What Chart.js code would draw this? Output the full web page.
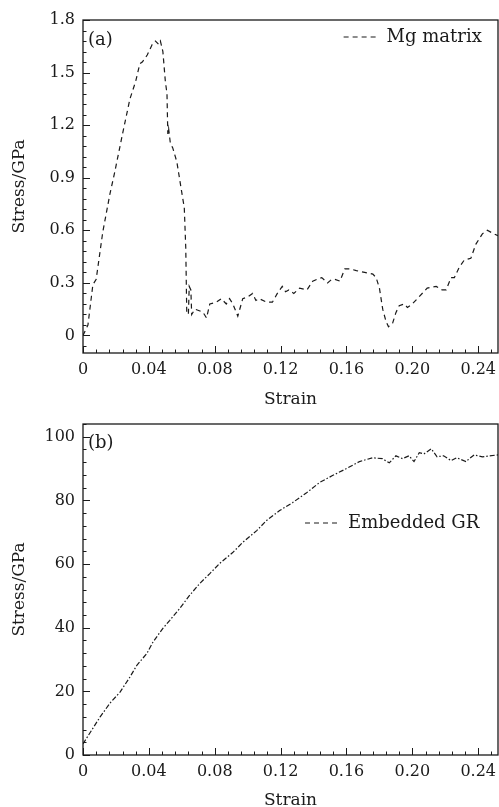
<!DOCTYPE html>
<html>
<head>
<meta charset="utf-8">
<script src="https://cdn.jsdelivr.net/npm/chart.js@4.4.1/dist/chart.umd.min.js"></script>
<style>
  body { margin: 0; background: #fff; }
  canvas { display: block; }
</style>
</head>
<body>
<canvas id="chart-a" width="499" height="412"></canvas>
<canvas id="chart-b" width="499" height="395"></canvas>
<script>
// ─── Dados ──────────────────────────────────────

const strainTicks = [0, 0.04, 0.08, 0.12, 0.16, 0.20, 0.24];
const strainLabels = ['0', '0.04', '0.08', '0.12', '0.16', '0.20', '0.24'];

const stressTicksA = [0, 0.3, 0.6, 0.9, 1.2, 1.5, 1.8];
const stressLabelsA = ['0', '0.3', '0.6', '0.9', '1.2', '1.5', '1.8'];
const stressTicksB = [0, 20, 40, 60, 80, 100];

// (a) Mg matrix
const strainA = [
  0, 0.003, 0.006, 0.008, 0.012, 0.0164, 0.019, 0.024, 0.0285, 0.032,
  0.0345, 0.036, 0.039, 0.042, 0.044, 0.046, 0.047, 0.0485, 0.050, 0.051,
  0.0515, 0.052, 0.053, 0.0545, 0.057, 0.0606, 0.0615, 0.0624, 0.063, 0.064,
  0.0645, 0.0655, 0.066, 0.068, 0.071, 0.073, 0.075, 0.077, 0.081, 0.084,
  0.087, 0.089, 0.091, 0.094, 0.097, 0.100, 0.103, 0.105, 0.107, 0.1115,
  0.115, 0.118, 0.121, 0.123, 0.125, 0.128, 0.1315, 0.136, 0.1395, 0.142,
  0.145, 0.1485, 0.151, 0.153, 0.156, 0.159, 0.162, 0.166, 0.171, 0.176,
  0.178, 0.180, 0.182, 0.184, 0.1855, 0.188, 0.190, 0.192, 0.195, 0.197,
  0.200, 0.204, 0.209, 0.2145, 0.218, 0.2205, 0.2235, 0.2255, 0.2285, 0.2315,
  0.2355, 0.2385, 0.2425, 0.2455, 0.2495, 0.252
];
const stressA = [
  0, 0.06, 0.29, 0.32, 0.59, 0.81, 0.92, 1.15, 1.35, 1.45,
  1.55, 1.56, 1.60, 1.66, 1.68, 1.66, 1.68, 1.62, 1.45, 1.38,
  1.15, 1.18, 1.10, 1.07, 0.99, 0.78, 0.73, 0.50, 0.13, 0.12,
  0.28, 0.26, 0.12, 0.15, 0.14, 0.13, 0.10, 0.18, 0.19, 0.21,
  0.18, 0.21, 0.18, 0.11, 0.21, 0.22, 0.24, 0.20, 0.21, 0.19,
  0.19, 0.24, 0.28, 0.25, 0.26, 0.24, 0.27, 0.26, 0.31, 0.32,
  0.33, 0.30, 0.32, 0.32, 0.31, 0.38, 0.38, 0.37, 0.36, 0.35,
  0.33, 0.27, 0.15, 0.08, 0.05, 0.07, 0.13, 0.17, 0.18, 0.16,
  0.18, 0.22, 0.27, 0.28, 0.26, 0.26, 0.33, 0.33, 0.39, 0.43,
  0.44, 0.52, 0.58, 0.60, 0.58, 0.57
];

// (b) Embedded GR
const strainB = [
  0, 0.0103, 0.0164, 0.0224, 0.0285, 0.0327, 0.0388, 0.0424, 0.0485, 0.0527,
  0.0588, 0.0648, 0.0709, 0.0770, 0.0830, 0.0909, 0.0970, 0.1055, 0.1115, 0.1194,
  0.1273, 0.1358, 0.1436, 0.1515, 0.160, 0.1679, 0.1758, 0.1818, 0.186, 0.190,
  0.194, 0.198, 0.201, 0.2042, 0.207, 0.2115, 0.215, 0.219, 0.2235, 0.227,
  0.2325, 0.2375, 0.2425, 0.252
];
const stressB = [
  3.5, 11.9, 16.3, 19.7, 24.5, 28.2, 31.9, 35.4, 39.8, 42.3,
  46.1, 50.2, 53.9, 57.0, 60.2, 63.6, 66.8, 70.5, 73.7, 76.8,
  79.3, 82.4, 85.6, 87.8, 90.0, 92.2, 93.4, 93.1, 91.8, 94.0,
  93.1, 94.0, 92.2, 95.0, 94.6, 96.2, 93.7, 94.0, 92.5, 93.4,
  92.2, 94.3, 93.7, 94.3
];

const FONT = 'DejaVu Serif';
const INK = '#1a1a1a';

// ─── Moldura, ticks internos, legenda e rótulo do painel ──────────────

const moldura = {
  id: 'moldura',
  afterDraw(chart, args, o) {
    const { ctx, chartArea: a, scales: { x, y } } = chart;
    ctx.save();

    // ticks para dentro
    ctx.strokeStyle = INK;
    ctx.lineWidth = 1;
    ctx.beginPath();
    const marcas = (scale, step, horiz) => {
      const start = Math.ceil(scale.min / step - 1e-6);
      for (let i = start; i * step <= scale.max + 1e-9; i++) {
        const v = i * step;
        const p = Math.round(scale.getPixelForValue(v)) + 0.5;
        const major = scale.ticks.some(t => Math.abs(t.value - v) < step / 10);
        const len = major ? 7 : 3.5;
        if (horiz) { ctx.moveTo(p, a.bottom); ctx.lineTo(p, a.bottom - len); }
        else { ctx.moveTo(a.left, p); ctx.lineTo(a.left + len, p); }
      }
    };
    marcas(x, o.xMinor, true);
    marcas(y, o.yMinor, false);
    ctx.stroke();

    // caixa
    ctx.lineWidth = 1.3;
    ctx.strokeRect(a.left, a.top, a.width, a.height);

    // rótulo do painel
    ctx.fillStyle = INK;
    ctx.font = `18px "${FONT}"`;
    ctx.textBaseline = 'middle';
    ctx.textAlign = 'left';
    ctx.fillText(o.painel, a.left + 5, a.top + o.painelDy);

    // legenda
    const lx = a.left + a.width * o.legX;
    const ly = a.top + o.legDy;
    ctx.lineWidth = 1.2;
    ctx.setLineDash([5, 4]);
    ctx.beginPath();
    ctx.moveTo(lx, ly);
    ctx.lineTo(lx + 35, ly);
    ctx.stroke();
    ctx.setLineDash([]);
    ctx.fillText(o.legenda, lx + 43, ly);

    ctx.restore();
  }
};

function criarPainel(id, xs, ys, cfg) {
  const canvas = document.getElementById(id);
  return new Chart(canvas, {
    type: 'line',
    data: {
      datasets: [{
        data: xs.map((v, i) => ({ x: v, y: ys[i] })),
        borderColor: INK,
        borderWidth: 1.2,
        borderDash: cfg.dash,
        pointRadius: 0,
        tension: 0,
        fill: false,
      }],
    },
    options: {
      responsive: false,
      animation: false,
      layout: { padding: { top: cfg.top, right: 1, left: 0, bottom: 0 } },
      plugins: {
        legend: { display: false },
        tooltip: { enabled: false },
        moldura: cfg.moldura,
      },
      scales: {
        x: {
          type: 'linear',
          min: 0, max: 0.252,
          afterBuildTicks: s => { s.ticks = strainTicks.map(v => ({ value: v })); },
          afterFit: s => { s.height = cfg.xHeight; s.paddingLeft = 0; s.paddingRight = 0; },
          ticks: {
            color: INK, padding: 7,
            font: { family: FONT, size: 16 },
            maxRotation: 0,
            callback: (v) => strainLabels[strainTicks.findIndex(t => Math.abs(t - v) < 1e-6)] ?? '',
          },
          grid: { display: false, drawTicks: false },
          border: { display: false },
          title: {
            display: true, text: 'Strain', color: INK,
            font: { family: FONT, size: 17, lineHeight: 0.8 },
            padding: { top: 0, bottom: cfg.titlePad },
          },
        },
        y: {
          type: 'linear',
          min: cfg.yMin, max: cfg.yMax,
          afterBuildTicks: s => { s.ticks = cfg.yTicks.map(v => ({ value: v })); },
          afterFit: s => { s.width = 83; s.paddingTop = 0; s.paddingBottom = 0; },
          ticks: {
            color: INK, padding: 8,
            font: { family: FONT, size: 16 },
            callback: cfg.yLabel,
          },
          grid: { display: false, drawTicks: false },
          border: { display: false },
          title: {
            display: true, text: 'Stress/GPa', color: INK,
            font: { family: FONT, size: 17 },
            padding: { top: 9, bottom: 0 },
          },
        },
      },
    },
    plugins: [moldura],
  });
}

criarPainel('chart-a', strainA, stressA, {
  dash: [5, 4],
  top: 20,
  xHeight: 59,
  titlePad: 6,
  yMin: -0.1, yMax: 1.8,
  yTicks: stressTicksA,
  yLabel: v => stressLabelsA[stressTicksA.findIndex(t => Math.abs(t - v) < 1e-6)] ?? '',
  moldura: { xMinor: 0.008, yMinor: 0.06, painel: '(a)', painelDy: 20, legenda: 'Mg matrix', legX: 0.628, legDy: 17 },
});

criarPainel('chart-b', strainB, stressB, {
  dash: [5, 2, 1.5, 2],
  top: 12,
  xHeight: 52,
  titlePad: 0,
  yMin: 0, yMax: 104,
  yTicks: stressTicksB,
  yLabel: v => String(v),
  moldura: { xMinor: 0.008, yMinor: 4, painel: '(b)', painelDy: 19, legenda: 'Embedded GR', legX: 0.535, legDy: 99 },
});
</script>
</body>
</html>
